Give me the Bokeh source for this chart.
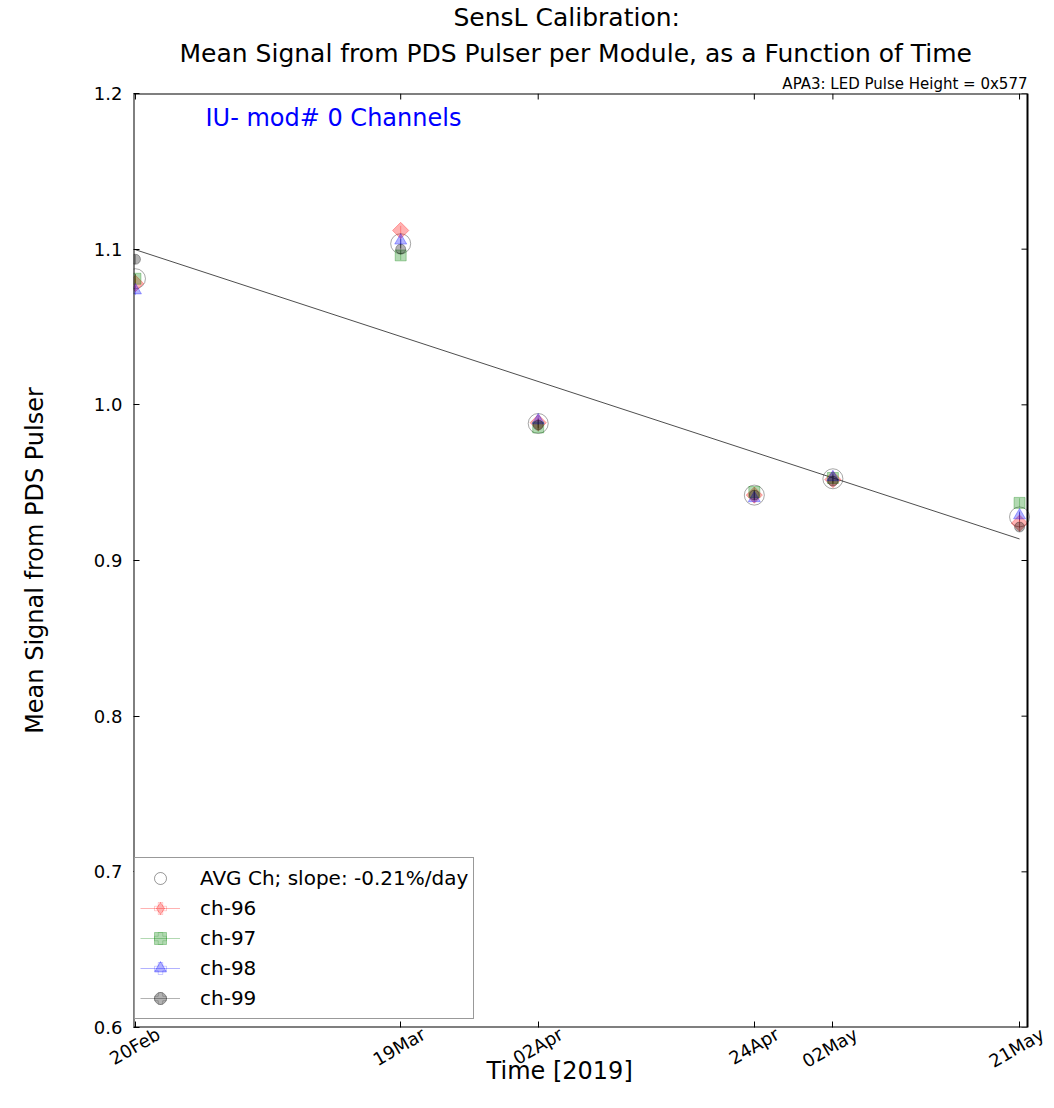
import math
from datetime import datetime

import numpy as np
from bokeh.embed import file_html
from bokeh.models import (BoxAnnotation, ColumnDataSource, DatetimeAxis,
                          DatetimeTickFormatter, FixedTicker, Label, Legend,
                          LegendItem, PrintfTickFormatter, Range1d, Title, Whisker)
from bokeh.plotting import figure
from bokeh.resources import INLINE

# Calibration runs (2019) and the mean pulser signal per channel
dates = ["2019-02-20", "2019-03-19", "2019-04-02", "2019-04-24", "2019-05-02", "2019-05-21"]
tick_labels = ["20Feb", "19Mar", "02Apr", "24Apr", "02May", "21May"]
avg_ch = [1.0810, 1.1035, 0.9880, 0.9420, 0.9525, 0.9280]
ch96 = [1.0780, 1.1120, 0.9885, 0.9420, 0.9520, 0.9240]
ch97 = [1.0810, 1.0960, 0.9855, 0.9440, 0.9530, 0.9370]
ch98 = [1.0735, 1.1055, 0.9900, 0.9400, 0.9535, 0.9290]
ch99 = [1.0935, 1.1000, 0.9870, 0.9420, 0.9510, 0.9215]
err = [0.003, 0.003, 0.003, 0.003, 0.003, 0.003]
y_ticks = [0.6, 0.7, 0.8, 0.9, 1.0, 1.1, 1.2]
slope_text = "AVG Ch; slope: -0.21%/day"

FONT = "DejaVu Sans"
DAY_MS = 86400000.0
NAN = float("nan")

t = [datetime.strptime(d, "%Y-%m-%d") for d in dates]
t_ms = [(d - datetime(1970, 1, 1)).total_seconds() * 1000.0 for d in t]
days = np.array([(d - t[0]).days for d in t], dtype=float)

# straight-line fit to the channel average
coef = np.polyfit(days, np.array(avg_ch), 1)
fit_y = list(np.polyval(coef, days[[0, -1]]))
fit_x = [t[0], t[-1]]

# axes box spans x_start..x_end; the canvas frame runs a little further right
# so that the rotated date labels have room past the last tick
PX_PER_DAY = 894 / 91.01
PX_PER_UNIT_Y = 934 / 0.6
x_start = t_ms[0] - 0.2 * DAY_MS
x_end = t_ms[-1] + 0.81 * DAY_MS
x_frame_end = x_end + 27 / PX_PER_DAY * DAY_MS
label_shift = 23 / PX_PER_DAY * DAY_MS
tick_len_x = 6 / PX_PER_DAY * DAY_MS
tick_len_y = 6 / PX_PER_UNIT_Y
y_lo, y_hi = y_ticks[0], y_ticks[-1]

p = figure(
    width=1054, height=1108,
    frame_width=921, frame_height=934,
    min_border_left=133, min_border_right=0, min_border_top=93, min_border_bottom=81,
    x_axis_type="datetime",
    x_range=Range1d(x_start, x_frame_end),
    y_range=Range1d(y_lo, y_hi),
    output_backend="svg", toolbar_location=None, title=None,
)
p.extra_x_ranges = {"labels": Range1d(x_start - label_shift, x_frame_end - label_shift)}
p.background_fill_color = "white"
p.border_fill_color = "white"
p.outline_line_color = None
p.xgrid.visible = False
p.ygrid.visible = False

xt = FixedTicker(ticks=t_ms)
yt = FixedTicker(ticks=y_ticks)
fmt = "%d%b"
xfmt = DatetimeTickFormatter(
    microseconds=fmt, milliseconds=fmt, seconds=fmt, minsec=fmt, minutes=fmt,
    hourmin=fmt, hours=fmt, days=fmt, months=fmt, years=fmt,
)


def style_axis(ax, show_labels, tick_in=6):
    ax.major_tick_in = tick_in
    ax.major_tick_out = 0
    ax.minor_tick_in = 0
    ax.minor_tick_out = 0
    ax.major_tick_line_color = "black" if tick_in else None
    ax.axis_line_color = None
    ax.major_label_text_font = FONT
    ax.major_label_text_font_size = "18px" if show_labels else "0px"
    ax.major_label_text_color = "black" if show_labels else None
    ax.axis_label_text_font = FONT
    ax.axis_label_text_font_size = "24px"
    ax.axis_label_text_font_style = "normal"
    ax.axis_label_text_color = "black"


# bottom: ticks on the main axis, labels on a shifted companion axis
xa = p.xaxis[0]
xa.ticker = xt
xa.formatter = xfmt
xa.major_label_standoff = 0
style_axis(xa, False)

xl = DatetimeAxis(ticker=xt, formatter=xfmt, x_range_name="labels")
style_axis(xl, True, tick_in=0)
xl.major_label_orientation = math.pi / 6
xl.major_label_standoff = 5
# trailing no-break spaces keep the caption centred under the axes box
xl.axis_label = "Time [2019]" + "\u00a0" * 9
xl.axis_label_standoff = -27
p.add_layout(xl, "below")

ya = p.yaxis[0]
ya.ticker = yt
ya.formatter = PrintfTickFormatter(format="%.1f")
ya.axis_label = "Mean Signal from PDS Pulser"
ya.major_label_standoff = 11
ya.axis_label_standoff = 42
style_axis(ya, True)

# axes box, plus the tick marks along its top and right sides
p.add_layout(BoxAnnotation(left=x_start, right=x_end, bottom=y_lo, top=y_hi,
                           fill_color=None, line_color="black", line_alpha=1.0,
                           line_width=2))
p.segment(x0=[x_end] * len(y_ticks), y0=y_ticks,
          x1=[x_end - tick_len_x] * len(y_ticks), y1=y_ticks,
          line_color="black", line_width=1)
p.segment(x0=t, y0=[y_hi] * len(t), x1=t, y1=[y_hi - tick_len_y] * len(t),
          line_color="black", line_width=1)

# regression line
p.line(fit_x, fit_y, line_color="#222222", line_width=1, line_alpha=0.8)


def add_err(vals, color, alpha):
    src = ColumnDataSource(dict(
        x=t, lo=[v - e for v, e in zip(vals, err)], hi=[v + e for v, e in zip(vals, err)]))
    w = Whisker(source=src, base="x", lower="lo", upper="hi",
                line_color=color, line_alpha=alpha, line_width=1)
    w.upper_head = None
    w.lower_head = None
    p.add_layout(w)


# name, values, colour, plot marker, size, angle, legend marker, legend size
series = [
    ("ch-96", ch96, "red", "square", 11.5, math.pi / 4, "diamond", 24),
    ("ch-97", ch97, "green", "square", 11, 0.0, "square", 14),
    ("ch-98", ch98, "blue", "triangle", 12, 0.0, "triangle", 15),
    ("ch-99", ch99, "black", "circle", 10, 0.0, "circle", 13),
]

items = []

# channel-average markers
p.scatter(t, avg_ch, marker="circle", size=20, fill_color=None,
          line_color="black", line_alpha=0.35, line_width=1)
add_err(avg_ch, "black", 0.5)
avg_leg = p.scatter([NAN], [NAN], marker="circle", size=19, fill_color=None,
                    line_color="black", line_alpha=0.4)
items.append(LegendItem(label=slope_text, renderers=[avg_leg]))

for name, vals, color, marker, size, ang, leg_marker, leg_size in series:
    add_err(vals, color, 0.3)
    p.scatter(t, vals, marker=marker, size=size, angle=ang,
              fill_color=color, fill_alpha=0.3, line_color=color, line_alpha=0.3)
    leg_line = p.line([NAN, NAN], [NAN, NAN], line_color=color, line_alpha=0.3, line_width=1)
    leg_bar = p.scatter([NAN], [NAN], marker="plus", size=24, fill_color=None,
                        line_color=color, line_alpha=0.2, line_width=1)
    leg_mark = p.scatter([NAN], [NAN], marker=leg_marker, size=leg_size,
                         fill_color=color, fill_alpha=0.3, line_color=color, line_alpha=0.3)
    items.append(LegendItem(label=name, renderers=[leg_line, leg_bar, leg_mark]))

legend = Legend(items=items, location=(1, 8))
legend.label_text_font = FONT
legend.label_text_font_size = "20px"
legend.label_text_color = "black"
legend.glyph_width = 40
legend.glyph_height = 30
legend.label_height = 30
legend.spacing = 0
legend.padding = 5
legend.margin = 0
legend.label_standoff = 20
legend.border_line_color = "#333333"
legend.border_line_width = 1
legend.background_fill_color = "white"
legend.background_fill_alpha = 1.0
p.add_layout(legend, "center")


# header lines, stacked outward from the frame
def header(text, size, align, standoff, offset):
    tt = Title(text=text, align=align, text_font=FONT, text_font_size=size,
               text_font_style="normal", text_color="black",
               standoff=standoff, offset=offset)
    p.add_layout(tt, "above")


header("APA3: LED Pulse Height = 0x577", "15px", "right", 2, 27)
header("Mean Signal from PDS Pulser per Module, as a Function of Time", "25px", "left", 8, 46)
header("SensL Calibration:", "25px", "left", 1, 320)

p.add_layout(Label(x=72, y=1027 - 117, x_units="screen", y_units="screen",
                   text="IU- mod# 0 Channels", text_font=FONT, text_font_size="24px",
                   text_align="left", text_baseline="middle", text_color="blue"))

open("out.html", "w").write(file_html(p, INLINE))
